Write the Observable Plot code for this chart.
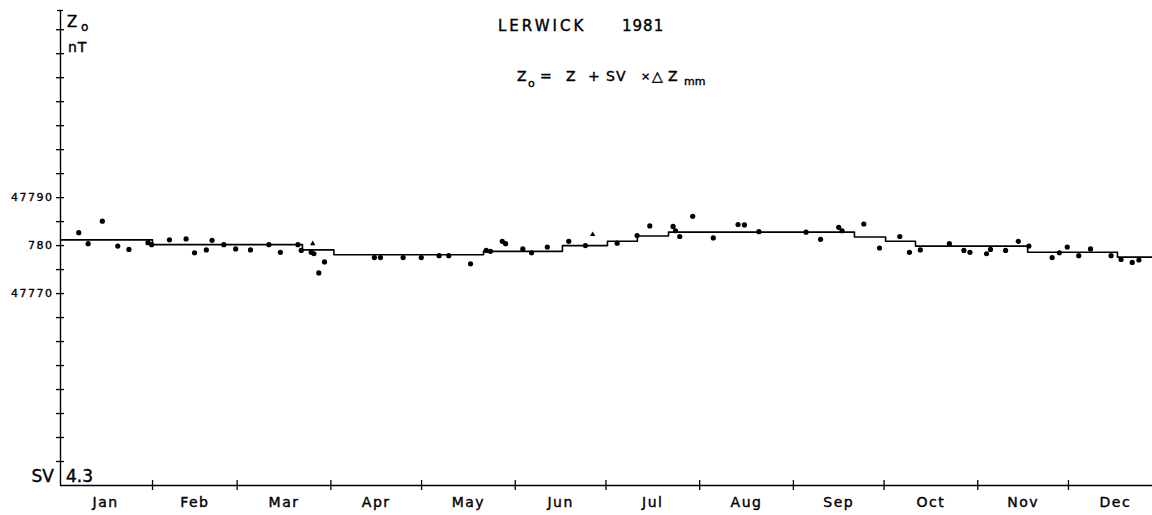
<!DOCTYPE html>
<html><head><meta charset="utf-8">
<script src="https://cdn.jsdelivr.net/npm/d3@7"></script>
<script src="https://cdn.jsdelivr.net/npm/@observablehq/plot@0.6"></script>
<style>
body{margin:0;background:#fff}
svg{display:block}
svg text{letter-spacing:1.5px}
</style>
</head><body><div id="chart"></div>
<script>
// day-of-year positions and Z0 values (nT) of daily points
const dotDays = [6.6, 9.7, 14.4, 19.5, 23.2, 29.5, 30.7, 36.6, 42.1, 44.9, 48.8, 50.7, 54.6, 58.5, 63.4, 69.5, 73.3, 79.1, 80.2, 83.5, 84.4, 86.0, 87.9,
  104.4, 106.4, 113.9, 119.9, 125.8, 129.0, 136.2, 141.4, 142.8, 146.7, 147.8, 153.5, 156.4, 161.6, 168.7, 174.2,
  184.7, 191.3, 195.5, 203.2, 204.0, 205.4, 209.7, 216.5, 224.7, 226.8, 231.6, 247.2, 252.0, 258.0, 259.1, 266.3,
  271.5, 278.2, 281.4, 285.0, 294.6, 299.4, 301.4, 306.9, 308.2, 313.2, 317.4, 320.9, 328.6, 331.0, 333.6, 337.4, 341.3, 348.1, 351.4, 355.1, 357.3];
const dotValues = [47782.7, 47780.4, 47785.1, 47779.9, 47779.2, 47780.6, 47780.2, 47781.2, 47781.4, 47778.5, 47779.1, 47781.1, 47780.2, 47779.3, 47779.1, 47780.2, 47778.6, 47780.2, 47779.0, 47778.6, 47778.3, 47774.3, 47776.6,
  47777.5, 47777.5, 47777.5, 47777.5, 47777.9, 47777.9, 47776.2, 47779.0, 47778.8, 47780.9, 47780.4, 47779.3, 47778.5, 47779.7, 47780.9, 47780.0,
  47780.5, 47782.1, 47784.1, 47784.0, 47783.1, 47781.9, 47786.1, 47781.6, 47784.4, 47784.3, 47782.9, 47782.8, 47781.3, 47783.8, 47783.1, 47784.5,
  47779.5, 47781.9, 47778.6, 47779.1, 47780.4, 47779.0, 47778.6, 47778.3, 47779.2, 47779.0, 47780.9, 47779.9, 47777.5, 47778.5, 47779.7, 47777.9, 47779.3, 47777.9, 47777.1, 47776.5, 47777.0];
// small triangle points
const triDays = [84.0, 176.6];
const triValues = [47780.4, 47782.3];
// baseline step levels
const stepStarts = [0.56, 31, 80.6, 91, 140.5, 166.6, 181.5, 191.4, 201.7, 263.2, 273.5, 283.4, 320.5, 350.2];
const stepValues = [47781.2, 47780.2, 47779.1, 47778.1, 47778.8, 47780.0, 47780.9, 47782.0, 47782.8, 47781.8, 47780.9, 47779.9, 47778.6, 47777.6];
const stepEnd = 361.8;
// axes
const monthNames = ["Jan","Feb","Mar","Apr","May","Jun","Jul","Aug","Sep","Oct","Nov","Dec"];
const monthMid = [15.5, 45, 74.5, 105, 135.5, 166, 196.5, 227.5, 258, 288.5, 319, 349.5];
const monthEnds = [31, 59, 90, 120, 151, 181, 212, 243, 273, 304, 334];
const yTicks = d3.range(47735, 47830, 5);
const yLabelValues = [47790, 47780, 47770];
const yLabels = ["47790", "780", "47770"];
const xMin = 0.56, yMin = 47730, yMax = 47829;

const dots = dotDays.map((d, i) => ({d, v: dotValues[i]}));
const tris = triDays.map((d, i) => ({d, v: triValues[i]}));
const steps = stepStarts.map((d, i) => ({d, v: stepValues[i]}));
steps.push({d: stepEnd, v: stepValues[stepValues.length - 1]});

const plot = Plot.plot({
  width: 1152, height: 515,
  marginLeft: 60, marginRight: 0, marginTop: 10, marginBottom: 30,
  style: {fontFamily: "DejaVu Sans", background: "white", color: "black"},
  x: {domain: [xMin, stepEnd], axis: null},
  y: {domain: [yMin, yMax], axis: null},
  marks: [
    Plot.ruleX([xMin], {y1: yMin, y2: yMax, stroke: "#000", strokeWidth: 1.4}),
    Plot.ruleY([yMin], {x1: xMin, x2: stepEnd, stroke: "#000", strokeWidth: 1.4}),
    Plot.ruleY(yTicks, {x1: xMin, x2: xMin, insetLeft: -4, insetRight: -4, stroke: "#000", strokeWidth: 1.3}),
    Plot.ruleY([yMax], {x1: xMin, x2: xMin, insetLeft: -3, insetRight: -3, stroke: "#000", strokeWidth: 1.3}),
    Plot.ruleX(monthEnds, {y1: yMin, y2: yMin, insetTop: -5, insetBottom: -5, stroke: "#000", strokeWidth: 1.3}),
    Plot.text(yLabelValues, {x: xMin, y: d => d, text: (d, i) => yLabels[i], textAnchor: "end", dx: -7, fontSize: 11, fill: "#000", stroke: "#000", strokeWidth: 0.35}),
    Plot.text(monthNames, {x: (d, i) => monthMid[i], y: yMin, dy: 17.5, text: d => d, fontSize: 14, fill: "#000", stroke: "#000", strokeWidth: 0.4}),
    Plot.line(steps, {x: "d", y: "v", curve: "step-after", stroke: "#000", strokeWidth: 1.6}),
    Plot.dot(dots, {x: "d", y: "v", r: 2.6, fill: "#000"}),
    Plot.dot(tris, {x: "d", y: "v", r: 2, symbol: "triangle", fill: "#000"})
  ]
});
document.getElementById("chart").appendChild(plot);

const svg = d3.select(plot);
function txt(x, y, s, size, opts = {}) {
  const t = svg.append("text").attr("x", x).attr("y", y).attr("font-size", size)
    .attr("fill", "#000").attr("stroke", "#000").attr("stroke-width", 0.4)
    .attr("font-family", "DejaVu Sans")
    .attr("text-anchor", opts.anchor || "start").text(s);
  t.style("letter-spacing", (opts.ls != null ? opts.ls : 0) + "px");
  return t;
}
// axis caption
txt(67, 27, "Z", 15);
txt(81, 31, "o", 12);
txt(68, 52, "nT", 14, {ls: 1});
txt(54, 482, "SV", 17, {anchor: "end"});
txt(66, 482, "4.3", 17);
// title
txt(498, 31, "LERWICK", 15, {ls: 3});
txt(622, 31, "1981", 15, {ls: 1});
// formula
txt(517, 81, "Z", 14);
txt(528, 87, "o", 11);
txt(540, 81, "=", 14);
txt(566, 81, "Z", 14);
txt(588, 81, "+", 14);
txt(606, 81, "SV", 14, {ls: 1});
txt(641, 80, "×", 11);
txt(652, 81, "△", 14);
txt(668, 81, "Z", 14);
txt(684, 85, "mm", 11);
</script>
</body></html>
